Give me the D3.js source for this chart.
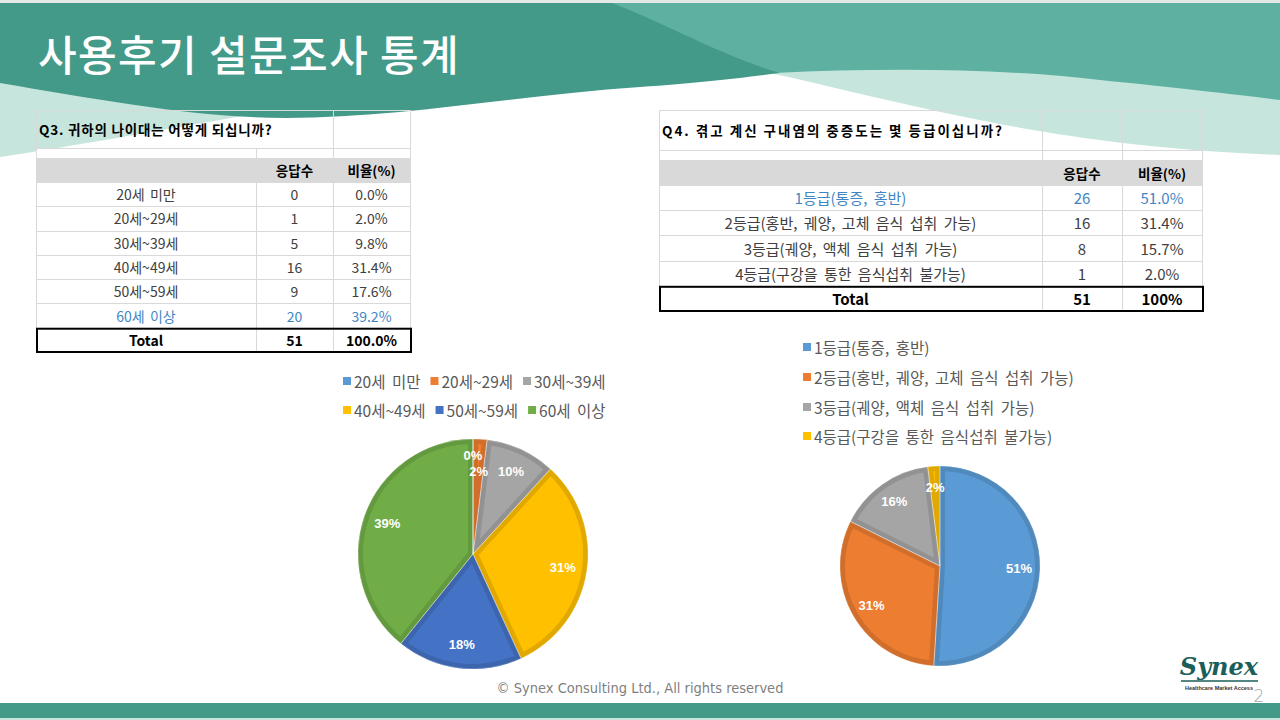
<!DOCTYPE html>
<html>
<head>
<meta charset="utf-8">
<script src="https://cdn.jsdelivr.net/npm/d3@7"></script>
<style>
body { margin: 0; background: #fff; }
svg { display: block; }
</style>
</head>
<body>
<div id="chart-area"></div>
<script>
// 데이터
var ageLabels = ["20세 미만", "20세~29세", "30세~39세", "40세~49세", "50세~59세", "60세 이상"];
var ageCounts = [0, 1, 5, 16, 9, 20];
var agePctLabels = ["0.0%", "2.0%", "9.8%", "31.4%", "17.6%", "39.2%"];
var ageTotal = ["Total", "51", "100.0%"];

var gradeLabels = ["1등급(통증, 홍반)", "2등급(홍반, 궤양, 고체 음식 섭취 가능)", "3등급(궤양, 액체 음식 섭취 가능)", "4등급(구강을 통한 음식섭취 불가능)"];
var gradeCounts = [26, 16, 8, 1];
var gradePctLabels = ["51.0%", "31.4%", "15.7%", "2.0%"];
var gradeTotal = ["Total", "51", "100%"];

var headerLabels = ["", "응답수", "비율(%)"];
var pieColors = ["#5b9bd5", "#ed7d31", "#a5a5a5", "#ffc000", "#4472c4", "#70ad47"];

var width = 1280;
var height = 720;
var KR = "'Noto Sans CJK KR', 'Noto Sans', sans-serif";

var svg = d3.select("#chart-area").append("svg")
    .attr("width", width)
    .attr("height", height);

// 배경 (상단 물결)
svg.append("rect").attr("width", width).attr("height", height).attr("fill", "#fff");
svg.append("rect").attr("width", width).attr("height", 3).attr("fill", "#e4e9e8");
svg.append("path")
    .attr("d", "M0,78 L0,157 C100,142 200,122 340,100 L340,78 Z")
    .attr("fill", "#c6e6dd");
svg.append("path")
    .attr("d", "M760,60 H1280 V155 C1150,150 1050,135 960,116 C900,104 830,86 770,73 Z")
    .attr("fill", "#c6e6dd");
svg.append("path")
    .attr("d", "M560,3 H1280 V100 C1240,95 1180,88 1100,80 C1000,68 880,68 775,73 L560,78 Z")
    .attr("fill", "#5eb0a0");
svg.append("path")
    .attr("d", "M0,3 H612 C680,30 720,55 780,73 C740,78 700,83 640,87 C520,95 400,118 286,118 C200,118 100,100 0,83 Z")
    .attr("fill", "#449a89");

// 제목
svg.append("text")
    .attr("x", 38)
    .attr("y", 71)
    .attr("font-family", KR)
    .attr("font-size", "42px")
    .attr("font-weight", 500)
    .attr("letter-spacing", "1.4px")
    .attr("fill", "#fff")
    .text("사용후기 설문조사 통계");

// 표
function drawTable(cfg) {
    var g = svg.append("g");
    var cols = cfg.cols;
    var rows = cfg.labels.concat(["Total"]);
    var y = d3.scaleBand().domain(rows).range([cfg.bodyTop, cfg.bodyBottom]);
    var maxIdx = d3.maxIndex(cfg.counts);
    var line = "#d9d9d9";

    g.append("rect")
        .attr("x", cols[0]).attr("y", cfg.titleBottom)
        .attr("width", cols[3] - cols[0]).attr("height", cfg.blankBottom - cfg.titleBottom)
        .attr("fill", "#fff");
    g.append("rect")
        .attr("x", cols[0]).attr("y", cfg.blankBottom)
        .attr("width", cols[3] - cols[0]).attr("height", cfg.bodyTop - cfg.blankBottom)
        .attr("fill", "#d9d9d9");
    g.append("rect")
        .attr("x", cols[0]).attr("y", cfg.bodyTop)
        .attr("width", cols[3] - cols[0]).attr("height", cfg.bodyBottom - cfg.bodyTop)
        .attr("fill", "#fff");

    // 가는 선
    var hl = [cfg.top, cfg.titleBottom, cfg.blankBottom].concat(rows.map(function(d) { return y(d); }));
    g.selectAll(".hline").data(hl).enter().append("line")
        .attr("x1", cols[0]).attr("x2", cols[3])
        .attr("y1", function(d) { return Math.round(d) + 0.5; })
        .attr("y2", function(d) { return Math.round(d) + 0.5; })
        .attr("stroke", line);
    [cols[0], cols[3]].forEach(function(x) {
        g.append("line").attr("x1", x + 0.5).attr("x2", x + 0.5)
            .attr("y1", cfg.top).attr("y2", cfg.bodyBottom).attr("stroke", line);
    });
    [1, 2].forEach(function(i) {
        var top = (i === 1 && cfg.mergeTitle) ? cfg.titleBottom : cfg.top;
        g.append("line").attr("x1", cols[i] + 0.5).attr("x2", cols[i] + 0.5)
            .attr("y1", top).attr("y2", cfg.bodyBottom).attr("stroke", line);
    });

    g.append("text")
        .attr("x", cols[0] + 3)
        .attr("y", (cfg.top + cfg.titleBottom) / 2)
        .attr("dominant-baseline", "central")
        .attr("font-family", KR)
        .attr("font-size", "13.5px")
        .attr("font-weight", "bold")
        .attr("letter-spacing", cfg.titleSpacing)
        .attr("fill", "#000")
        .text(cfg.title);

    var cx = [0, 1, 2].map(function(i) { return (cols[i] + cols[i + 1]) / 2; });

    headerLabels.forEach(function(h, i) {
        g.append("text")
            .attr("x", cx[i]).attr("y", (cfg.blankBottom + cfg.bodyTop) / 2)
            .attr("text-anchor", "middle").attr("dominant-baseline", "central")
            .attr("font-family", KR).attr("font-size", "13.5px").attr("font-weight", "bold")
            .attr("fill", "#000")
            .text(h);
    });

    cfg.labels.forEach(function(lab, i) {
        var cells = [lab, String(cfg.counts[i]), cfg.pcts[i]];
        cells.forEach(function(c, j) {
            g.append("text")
                .attr("x", cx[j]).attr("y", y(lab) + y.bandwidth() / 2)
                .attr("text-anchor", "middle").attr("dominant-baseline", "central")
                .attr("font-family", KR).attr("font-size", cfg.fontSize)
                .attr("word-spacing", cfg.wordSpacing)
                .attr("fill", i === maxIdx ? "#3f86c4" : "#404040")
                .text(c);
        });
    });

    cfg.total.forEach(function(c, j) {
        g.append("text")
            .attr("x", cx[j]).attr("y", y("Total") + y.bandwidth() / 2)
            .attr("text-anchor", "middle").attr("dominant-baseline", "central")
            .attr("font-family", KR).attr("font-size", cfg.fontSize).attr("font-weight", "bold")
            .attr("fill", "#000")
            .text(c);
    });

    g.append("rect")
        .attr("x", cols[0] + 1).attr("y", y("Total") + 1)
        .attr("width", cols[3] - cols[0]).attr("height", y.bandwidth() - 1)
        .attr("fill", "none").attr("stroke", "#000").attr("stroke-width", 2);
}

drawTable({
    title: "Q3. 귀하의 나이대는 어떻게 되십니까?",
    titleSpacing: "0.8px",
    fontSize: "14px", wordSpacing: "2px",
    labels: ageLabels, counts: ageCounts, pcts: agePctLabels, total: ageTotal,
    cols: [36, 256, 333, 410],
    top: 110, titleBottom: 148, blankBottom: 158, bodyTop: 182, bodyBottom: 352,
    mergeTitle: true
});
drawTable({
    title: "Q4. 겪고 계신 구내염의 중증도는 몇 등급이십니까?",
    titleSpacing: "2px",
    fontSize: "15px", wordSpacing: "3px",
    labels: gradeLabels, counts: gradeCounts, pcts: gradePctLabels, total: gradeTotal,
    cols: [659, 1042, 1122, 1202],
    top: 110, titleBottom: 150, blankBottom: 160, bodyTop: 185, bodyBottom: 311,
    mergeTitle: false
});

// 범례
function drawLegend(labels, x0, rowYs, perRow) {
    var g = svg.append("g");
    var x = x0;
    labels.forEach(function(lab, i) {
        var row = Math.floor(i / perRow);
        if (i % perRow === 0) x = x0;
        var yy = rowYs[row];
        g.append("rect")
            .attr("x", x).attr("y", yy - 4)
            .attr("width", 8).attr("height", 8)
            .attr("fill", pieColors[i]);
        var t = g.append("text")
            .attr("x", x + 11).attr("y", yy)
            .attr("dominant-baseline", "central")
            .attr("font-family", KR).attr("font-size", "15.5px")
            .attr("word-spacing", "3px")
            .attr("fill", "#595959")
            .text(lab);
        x = x + 11 + t.node().getComputedTextLength() + 10;
    });
}
drawLegend(ageLabels, 343, [381, 410], 3);
drawLegend(gradeLabels, 803, [347, 377, 407, 436], 1);

// 원형 차트
function drawPie(values, cx, cy, r, id) {
    var total = d3.sum(values);
    var pie = d3.pie().sort(null).value(function(d) { return d; });
    var arcs = pie(values);
    var arc = d3.arc().innerRadius(0).outerRadius(r);
    var g = svg.append("g").attr("transform", "translate(" + cx + "," + cy + ")");

    g.selectAll(".clip").data(arcs).enter().append("clipPath")
        .attr("id", function(d, i) { return id + "-c" + i; })
        .append("path").attr("d", arc);

    g.selectAll(".slice").data(arcs).enter().append("path")
        .attr("d", arc)
        .attr("fill", function(d, i) { return pieColors[i]; })
        .attr("stroke", function(d, i) { return d3.color(pieColors[i]).darker(0.35); })
        .attr("stroke-width", 10)
        .attr("clip-path", function(d, i) { return "url(#" + id + "-c" + i + ")"; });

    g.selectAll(".sep").data(arcs).enter().append("path")
        .attr("d", arc)
        .attr("fill", "none")
        .attr("stroke", "#fff")
        .attr("stroke-width", 0.6)
        .attr("stroke-opacity", 0.5);

    var labelArc = d3.arc().innerRadius(r * 0.79).outerRadius(r * 0.79);
    var pos = arcs.map(function(d) { return labelArc.centroid(d); });
    for (var i = 1; i < pos.length; i++) {
        var dx = pos[i][0] - pos[i - 1][0], dy = pos[i][1] - pos[i - 1][1];
        if (Math.sqrt(dx * dx + dy * dy) < 12) {
            pos[i - 1] = [pos[i - 1][0], pos[i - 1][1] - 8];
            pos[i] = [pos[i][0], pos[i][1] + 8];
        }
    }
    g.selectAll(".lbl").data(arcs).enter().append("text")
        .attr("x", function(d, i) { return pos[i][0]; })
        .attr("y", function(d, i) { return pos[i][1]; })
        .attr("text-anchor", "middle")
        .attr("dominant-baseline", "central")
        .attr("font-family", "'Liberation Sans', 'Noto Sans', sans-serif")
        .attr("font-size", "13px")
        .attr("font-weight", "bold")
        .attr("fill", "#fff")
        .text(function(d) { return d3.format(".0%")(d.data / total); });
}
drawPie(ageCounts, 473, 554, 115, "pa");
drawPie(gradeCounts, 940, 566, 100, "pg");

// 하단
svg.append("text")
    .attr("x", 640).attr("y", 688)
    .attr("text-anchor", "middle").attr("dominant-baseline", "central")
    .attr("font-family", "'Liberation Sans Narrow', 'DejaVu Sans Condensed', sans-serif")
    .attr("font-size", "14.5px")
    .attr("fill", "#7f7f7f")
    .text("© Synex Consulting Ltd., All rights reserved");

svg.append("text")
    .attr("x", 1219).attr("y", 675)
    .attr("text-anchor", "middle")
    .attr("font-family", "'DejaVu Serif', serif")
    .attr("font-style", "italic").attr("font-weight", "bold")
    .attr("font-size", "24px")
    .attr("fill", "#1b5e5b")
    .text("Synex");
svg.append("line")
    .attr("x1", 1181).attr("x2", 1258).attr("y1", 681).attr("y2", 681)
    .attr("stroke", "#1b5e5b").attr("stroke-width", 1.5);
svg.append("text")
    .attr("x", 1219).attr("y", 690)
    .attr("text-anchor", "middle")
    .attr("font-family", "'Liberation Sans', sans-serif")
    .attr("font-weight", "bold").attr("font-size", "5.5px")
    .attr("fill", "#333")
    .text("Healthcare Market Access");
svg.append("text")
    .attr("x", 1259).attr("y", 702)
    .attr("text-anchor", "middle")
    .attr("font-family", "'DejaVu Sans', sans-serif")
    .attr("font-weight", 300).attr("font-size", "17px")
    .attr("fill", "#a6a6a6")
    .text("2");

svg.append("rect").attr("x", 0).attr("y", 703).attr("width", width).attr("height", 15).attr("fill", "#449a89");
svg.append("rect").attr("x", 0).attr("y", 718).attr("width", width).attr("height", 2).attr("fill", "#c6e6dd");
</script>
</body>
</html>
